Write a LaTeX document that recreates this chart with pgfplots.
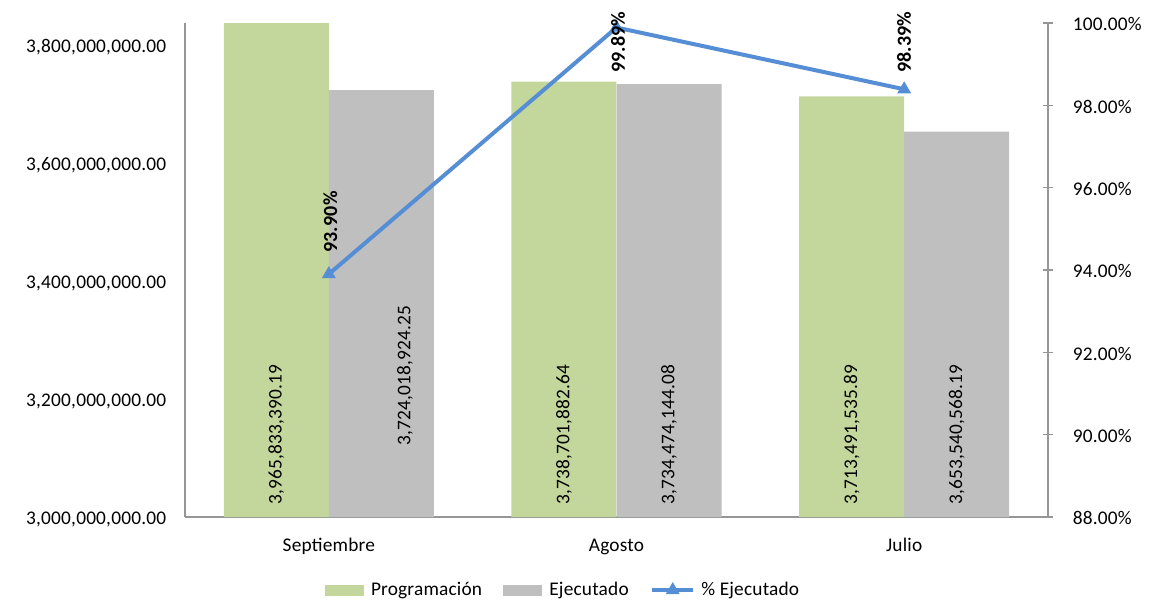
\documentclass[border=0pt]{standalone}
\usepackage{fontspec}
\setmainfont{Carlito}[LetterSpace=1]
\usepackage{pgfplots}
\usepackage{pgfplotstable}
\pgfplotsset{compat=1.18}

\definecolor{progGreen}{RGB}{195,214,155}
\definecolor{ejecGray}{RGB}{191,191,191}
\definecolor{lineBlue}{RGB}{85,142,213}
\definecolor{axisGray}{RGB}{150,150,150}

\pgfplotsset{
  linelegend/.style={legend image code/.code={\draw[mark repeat=2, mark phase=2, ##1]
    plot coordinates {(0pt,0pt) (15.5pt,0pt) (31pt,0pt)}; \path (33.5pt,0pt);}},
  boxlegend/.style={legend image code/.code={\fill[#1] (0pt,-3.6pt) rectangle (28.5pt,3.6pt);
    \path (32pt,0pt);}},
}

% x: 0 = Septiembre, 1 = Agosto, 2 = Julio
\pgfplotstableread{
x prog ejec pct
0 3965833390.19 3724018924.25 93.90
1 3738701882.64 3734474144.08 99.89
2 3713491535.89 3653540568.19 98.39
}\datatable

\pgfplotstableread{
lx ly lab
-0.1825 3020250000 3,965,833,390.19
0.265 3121500000 3,724,018,924.25
0.8175 3020250000 3,738,701,882.64
1.1825 3020250000 3,734,474,144.08
1.8175 3020250000 3,713,491,535.89
2.1825 3020250000 3,653,540,568.19
}\barlabels

\pgfplotstableread{
px py lab
0.005 94.41 93.90\%
1.005 98.78 99.89\%
2.0 98.78 98.39\%
}\pctlabels

\begin{document}
\begin{tikzpicture}
\pgfplotsset{
  every axis/.append style={
    scale only axis,
    width=647.25pt, height=370.5pt,
    at={(0pt,0pt)}, anchor=south west,
    xmin=-0.5, xmax=2.5,
    font=\fontsize{14.5}{17}\selectfont,
  },
}
\path[use as bounding box] (-138.75pt,-68.25pt) rectangle (723pt,387.75pt);

\begin{axis}[
  ymin=3000000000, ymax=3838000000,
  axis x line*=bottom, axis y line*=left,
  axis line style={-, draw=axisGray, line width=1pt},
  xtick={0,1,2}, xticklabels={Septiembre,Agosto,Julio},
  xtick style={draw=none},
  xticklabel style={anchor=base, yshift=-25.5pt},
  ytick={3000000000,3200000000,3400000000,3600000000,3800000000},
  yticklabels={{3,000,000,000.00},{3,200,000,000.00},{3,400,000,000.00},{3,600,000,000.00},{3,800,000,000.00}},
  ytick style={draw=none},
  yticklabel style={anchor=east, inner sep=0pt, xshift=-14pt, yshift=-1.5pt},
  scaled y ticks=false,
]
\addplot[ybar, bar width=78.75pt, bar shift=-39.4pt, fill=progGreen, draw=none]
  table[x=x, y=prog] {\datatable};
\addplot[ybar, bar width=78.75pt, bar shift=39.4pt, fill=ejecGray, draw=none]
  table[x=x, y=ejec] {\datatable};
\addplot[draw=none, nodes near coords, point meta=explicit symbolic,
  nodes near coords style={rotate=90, anchor=west, inner sep=0pt, text=black}]
  table[x=lx, y=ly, meta=lab] {\barlabels};
\end{axis}

\begin{axis}[
  ymin=88, ymax=100,
  clip=false,
  axis x line=none, axis y line*=right,
  axis line style={-, draw=axisGray, line width=1pt},
  ytick={88,90,92,94,96,98,100},
  yticklabels={88.00\%,90.00\%,92.00\%,94.00\%,96.00\%,98.00\%,100.00\%},
  ytick style={draw=axisGray, line width=0.8pt},
  tick align=center, major tick length=7pt,
  yticklabel style={anchor=west, inner sep=0pt, xshift=15pt, yshift=-1pt},
  legend columns=3,
  legend style={at={(0.4386,-0.148)}, anchor=center, draw=none, fill=none,
    font=\fontsize{14.5}{17}\selectfont,
    /tikz/every even column/.append style={column sep=14pt}},
]
\addlegendimage{boxlegend=progGreen}
\addlegendentry{Programación}
\addlegendimage{boxlegend=ejecGray}
\addlegendentry{Ejecutado}
\addplot[lineBlue, line width=3pt, mark=triangle*, mark size=5.5pt,
  mark options={fill=lineBlue, draw=lineBlue, line width=0.5pt}, linelegend]
  table[x=x, y=pct] {\datatable};
\addlegendentry{\% Ejecutado}
\addplot[draw=none, forget plot, nodes near coords, point meta=explicit symbolic,
  nodes near coords style={rotate=90, anchor=west, inner sep=0pt, text=black,
    font=\bfseries\fontsize{15}{17}\selectfont}]
  table[x=px, y=py, meta=lab] {\pctlabels};
\end{axis}
\end{tikzpicture}
\end{document}
